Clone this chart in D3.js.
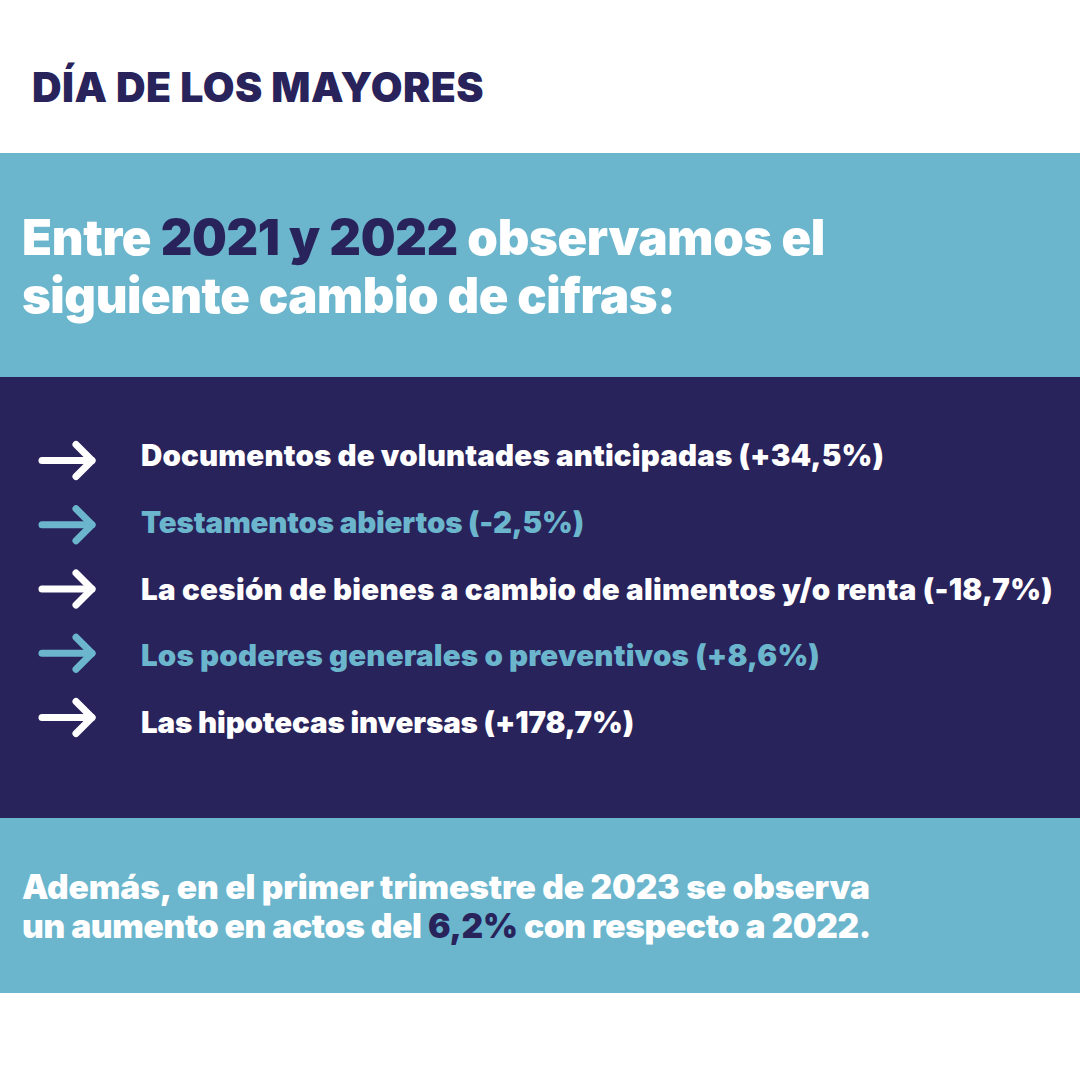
<!DOCTYPE html>
<html>
<head>
<meta charset="utf-8">
<script src="https://d3js.org/d3.v7.min.js"></script>
<style>
  html, body { margin: 0; padding: 0; background: #fff; }
  svg { display: block; }
  text { font-family: "Inter", "Roboto", sans-serif; }
</style>
</head>
<body>
<svg id="chart" width="1080" height="1080"></svg>
<script>
// colours
var navy = "#29235c";
var blue = "#6bb6cd";

// the list of changes in the dark band, right = where the line of text ends
var cambios = [
  { label: "Documentos de voluntades anticipadas", value: "+34,5%", color: "#fff", right: 884 },
  { label: "Testamentos abiertos", value: "-2,5%", color: blue, right: 584 },
  { label: "La cesión de bienes a cambio de alimentos y/o renta", value: "-18,7%", color: "#fff", right: 1053 },
  { label: "Los poderes generales o preventivos", value: "+8,6%", color: blue, right: 820 },
  { label: "Las hipotecas inversas", value: "+178,7%", color: "#fff", right: 634 }
];

var svg = d3.select("#chart");

// background bands
var bands = [
  { y: 153, h: 224, color: blue },
  { y: 377, h: 441, color: navy },
  { y: 818, h: 175, color: blue }
];
svg.selectAll("rect.band").data(bands).enter().append("rect")
  .attr("class", "band")
  .attr("x", 0).attr("width", 1080)
  .attr("y", d => d.y).attr("height", d => d.h)
  .attr("fill", d => d.color);

// build a text line out of coloured pieces, spaced so it ends at "right"
function addLine(x, right, y, size, parts) {
  var t = svg.append("text").attr("x", x).attr("y", y)
    .attr("font-size", size).attr("font-weight", 900);
  parts.forEach(p => t.append("tspan").attr("fill", p[1]).text(p[0]));
  var len = t.node().getComputedTextLength();
  var chars = t.text().length;
  t.attr("letter-spacing", (right - x - len) / chars);
}

addLine(32, 484, 102, 41, [["DÍA DE LOS MAYORES", navy]]);

addLine(22, 825, 255, 49, [["Entre ", "#fff"], ["2021 y 2022", navy], [" observamos el", "#fff"]]);
addLine(22, 675, 313, 49, [["siguiente cambio de cifras:", "#fff"]]);

// text baselines and arrows do not share the same step in the picture
var yRow = d3.scalePoint().domain(cambios.map(d => d.label)).range([466, 733]);
var yArrow = d3.scalePoint().domain(cambios.map(d => d.label)).range([460.5, 717.5]);

cambios.forEach(d => {
  addLine(141, d.right, yRow(d.label), 29.5, [[d.label + " (" + d.value + ")", d.color]]);
  // arrow
  var y = yArrow(d.label);
  var g = svg.append("g").attr("fill", "none").attr("stroke", d.color)
    .attr("stroke-width", 7).attr("stroke-linecap", "round").attr("stroke-linejoin", "round");
  g.append("path").attr("d", d3.line()([[42, y], [92, y]]));
  g.append("path").attr("d", d3.line()([[76, y - 16], [92, y], [76, y + 16]]));
});

addLine(22, 870, 899, 33.5, [["Además, en el primer trimestre de 2023 se observa", "#fff"]]);
addLine(22, 871, 938, 33.5, [["un aumento en actos del ", "#fff"], ["6,2%", navy], [" con respecto a 2022.", "#fff"]]);
</script>
</body>
</html>
